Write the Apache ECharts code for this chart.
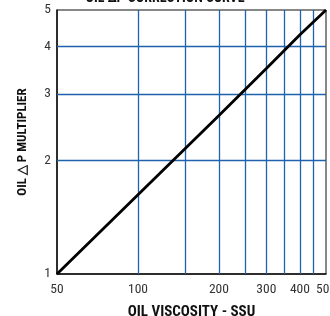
<!DOCTYPE html>
<html>
<head>
<meta charset="utf-8">
<script src="https://cdn.jsdelivr.net/npm/echarts@6/dist/echarts.min.js"></script>
<style>
  html, body { margin: 0; padding: 0; background: #fff; }
  #chart { width: 330px; height: 316px; }
</style>
</head>
<body>
<div id="chart"></div>
<script>
// viscosity (SSU) vs oil dP multiplier, straight line on log-log paper
const viscosity = [50, 100, 200, 300, 400, 500]
const multiplier = [1, 1.62, 2.63, 3.5, 4.3, 5]

const xLabels = [50, 100, 200, 300, 400, 500]
const xGrid = [100, 150, 200, 250, 300, 350, 400, 450]
const yLabels = [1, 2, 3, 4, 5]
const yGrid = [2, 3, 4]

const font = '"Liberation Sans Narrow", "Roboto Condensed", Arial Narrow, sans-serif'
const gridBlue = '#1f62ad'

const dom = document.getElementById('chart')
const myChart = echarts.init(dom, null, { renderer: 'canvas' })

const options = {
  animation: false,
  title: {
    text: 'OIL \u0394P CORRECTION CURVE',
    left: 'center',
    top: -14,
    textStyle: { fontFamily: font, fontSize: 14, fontWeight: 'bold', color: '#111' },
  },
  grid: {
    left: 57,
    right: 4,
    top: 10,
    bottom: 42,
    outerBoundsMode: 'none',
    show: true,
    borderColor: '#111',
    borderWidth: 1,
  },
  xAxis: {
    type: 'log',
    logBase: 10,
    min: 50,
    max: 500,
    name: 'OIL VISCOSITY - SSU',
    nameLocation: 'middle',
    nameGap: 31,
    nameTextStyle: { fontFamily: font, fontSize: 15, fontWeight: 'bold', color: '#111' },
    axisLine: { lineStyle: { color: '#111', width: 1.5 } },
    axisTick: { show: false },
    splitLine: { show: false },
    axisLabel: { customValues: xLabels, fontFamily: font, fontSize: 13.5, color: '#333', margin: 9 },
  },
  yAxis: {
    type: 'log',
    logBase: 10,
    min: 1,
    max: 5,
    name: 'OIL \u25B3 P MULTIPLIER',
    nameLocation: 'middle',
    nameRotate: 90,
    nameGap: 28,
    nameTextStyle: { fontFamily: font, fontSize: 13, fontWeight: 'bold', color: '#111' },
    axisLine: { lineStyle: { color: '#111', width: 1.5 } },
    axisTick: { show: false },
    splitLine: { show: false },
    axisLabel: { customValues: yLabels, fontFamily: font, fontSize: 13.5, color: '#333', margin: 6 },
  },
  series: [
    {
      type: 'line',
      data: viscosity.map((v, i) => [v, multiplier[i]]),
      showSymbol: false,
      lineStyle: { color: '#000', width: 2.8 },
      z: 5,
      markLine: {
        silent: true,
        symbol: 'none',
        label: { show: false },
        lineStyle: { color: gridBlue, width: 1.3, type: 'solid' },
        data: xGrid.map(v => ({ xAxis: v })).concat(yGrid.map(v => ({ yAxis: v }))),
      },
    },
  ],
}

myChart.setOption(options)
</script>
</body>
</html>
